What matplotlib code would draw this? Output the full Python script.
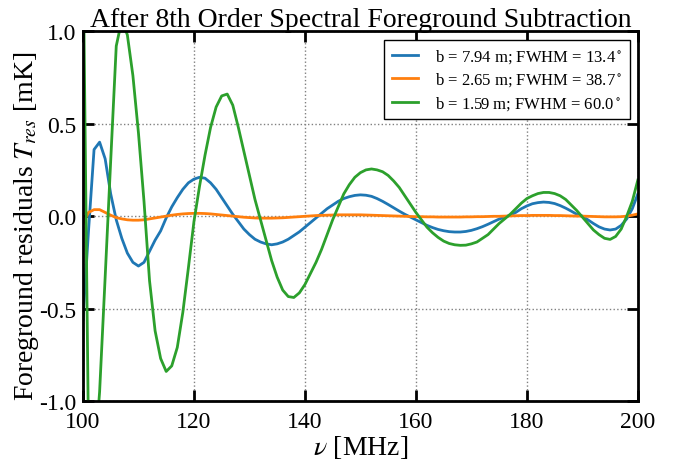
import matplotlib
matplotlib.use("Agg")
import matplotlib.pyplot as plt

freq = list(range(100, 201))

blue = [-0.56, -0.08, 0.36, 0.40, 0.31, 0.12, -0.02, -0.12, -0.20, -0.25,
        -0.27, -0.25, -0.19, -0.13, -0.08, -0.01, 0.05, 0.10, 0.145, 0.18,
        0.20, 0.21, 0.205, 0.18, 0.145, 0.10, 0.055, 0.01, -0.03, -0.07,
        -0.10, -0.125, -0.14, -0.15, -0.155, -0.15, -0.14, -0.125, -0.105, -0.085,
        -0.06, -0.035, -0.01, 0.015, 0.04, 0.06, 0.08, 0.095, 0.105, 0.112,
        0.115, 0.113, 0.107, 0.095, 0.08, 0.063, 0.045, 0.027, 0.01, -0.005,
        -0.02, -0.035, -0.05, -0.062, -0.072, -0.079, -0.084, -0.086, -0.086, -0.083,
        -0.077, -0.068, -0.057, -0.044, -0.03, -0.016, -0.006, 0.005, 0.02, 0.04,
        0.055, 0.067, 0.073, 0.076, 0.074, 0.068, 0.057, 0.043, 0.027, 0.01,
        0.0, -0.02, -0.04, -0.058, -0.07, -0.075, -0.07, -0.05, -0.015, 0.04,
        0.12]

orange = [-0.04, 0.02, 0.035, 0.035, 0.02, 0.005, -0.008, -0.015, -0.02, -0.022,
          -0.022, -0.02, -0.015, -0.01, -0.005, 0.0, 0.005, 0.009, 0.012, 0.014,
          0.015, 0.015, 0.014, 0.012, 0.009, 0.006, 0.003, 0.0, -0.003, -0.006,
          -0.008, -0.01, -0.011, -0.011, -0.011, -0.01, -0.009, -0.007, -0.005, -0.003,
          -0.001, 0.001, 0.003, 0.004, 0.005, 0.006, 0.007, 0.007, 0.007, 0.007,
          0.007, 0.006, 0.005, 0.004, 0.003, 0.002, 0.001, 0.0, -0.001, -0.002,
          -0.003, -0.003, -0.004, -0.004, -0.005, -0.005, -0.005, -0.005, -0.005, -0.004,
          -0.004, -0.003, -0.003, -0.002, -0.001, -0.001, 0.0, 0.001, 0.002, 0.003,
          0.003, 0.004, 0.004, 0.004, 0.004, 0.003, 0.003, 0.002, 0.001, 0.0,
          0.0, -0.001, -0.002, -0.003, -0.004, -0.004, -0.004, -0.003, 0.0, 0.005,
          0.012]

green = [1.5, -1.2, -1.35, -0.95, -0.33, 0.30, 0.92, 1.06, 0.98, 0.76,
         0.45, 0.08, -0.35, -0.62, -0.77, -0.84, -0.81, -0.71, -0.52, -0.28,
         -0.03, 0.16, 0.33, 0.48, 0.59, 0.65, 0.66, 0.60, 0.48, 0.35,
         0.22, 0.09, -0.02, -0.13, -0.24, -0.33, -0.40, -0.435, -0.44, -0.415,
         -0.37, -0.31, -0.25, -0.18, -0.10, -0.02, 0.05, 0.12, 0.17, 0.21,
         0.235, 0.25, 0.255, 0.25, 0.24, 0.22, 0.19, 0.155, 0.11, 0.065,
         0.02, -0.02, -0.06, -0.09, -0.115, -0.135, -0.148, -0.155, -0.158, -0.157,
         -0.15, -0.14, -0.12, -0.10, -0.07, -0.04, -0.015, 0.01, 0.04, 0.07,
         0.095, 0.11, 0.122, 0.128, 0.128, 0.122, 0.11, 0.09, 0.06, 0.03,
         -0.005, -0.04, -0.075, -0.10, -0.12, -0.126, -0.11, -0.07, 0.0, 0.08,
         0.195]

labels = [r"b = 7.94 m; FWHM = 13.4$^\circ$",
          r"b = 2.65 m; FWHM = 38.7$^\circ$",
          r"b = 1.59 m; FWHM = 60.0$^\circ$"]
colors = ["#1f77b4", "#ff7f0e", "#2ca02c"]
xticks = [100, 120, 140, 160, 180, 200]
yticks = [-1.0, -0.5, 0.0, 0.5, 1.0]

plt.rcParams["font.family"] = ["Liberation Serif", "DejaVu Serif"]
plt.rcParams["mathtext.fontset"] = "stix"
plt.rcParams["axes.unicode_minus"] = False

fig = plt.figure(figsize=(6.8, 4.6), dpi=100)
ax = fig.add_axes([0.122, 0.126, 0.816, 0.804])

for ys, c, lab in zip([blue, orange, green], colors, labels):
    ax.plot(freq, ys, color=c, lw=2.0, label=lab)

ax.set_xlim(100, 200)
ax.set_ylim(-1.0, 1.0)
ax.set_xticks(xticks)
ax.set_yticks(yticks)
ax.set_yticklabels([f"{v:.1f}" for v in yticks])
ax.tick_params(direction="in", length=8, width=2, top=True, right=True,
               labelsize=17)
ax.tick_params(axis="x", pad=7)
ax.tick_params(axis="y", pad=5)
for s in ax.spines.values():
    s.set_linewidth(2)
ax.grid(True, linestyle=":", color="gray", lw=1)
ax.set_axisbelow(True)

ax.set_title("After 8th Order Spectral Foreground Subtraction", fontsize=20, pad=4)
ax.set_xlabel(r"$\nu$ [MHz]", fontsize=20, labelpad=1)
ax.set_ylabel(r"Foreground residuals $T_{res}$ [mK]", fontsize=20)
ax.yaxis.set_label_coords(-0.076, 0.475)

leg = ax.legend(loc="upper right", fontsize=12, fancybox=False, framealpha=1,
                edgecolor="black", handlelength=1.6, handletextpad=1.0,
                borderpad=0.45, labelspacing=0.35, borderaxespad=0.5)
leg.get_frame().set_linewidth(1.0)

fig.savefig("out.png", dpi=100)
